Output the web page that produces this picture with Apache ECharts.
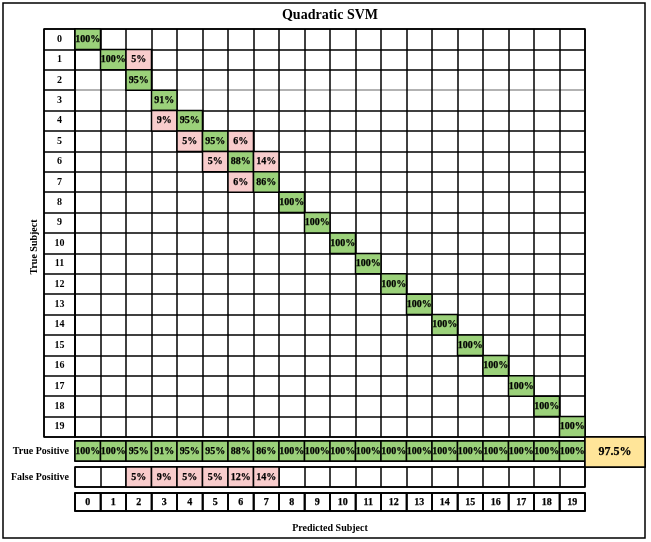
<!DOCTYPE html>
<html><head><meta charset="utf-8">
<script src="https://cdn.jsdelivr.net/npm/echarts@6/dist/echarts.min.js"></script>
<style>html,body{margin:0;padding:0;background:#fff}#c{width:651px;height:542px}</style>
</head><body><div id="c"></div>
<script>
// ---- data ----
const categories = ['0','1','2','3','4','5','6','7','8','9','10','11','12','13','14','15','16','17','18','19'];
// [predicted column, true row, percent]
const matrixCells = [
  [0,0,100],
  [1,1,100],[2,1,5],
  [2,2,95],
  [3,3,91],
  [3,4,9],[4,4,95],
  [4,5,5],[5,5,95],[6,5,6],
  [5,6,5],[6,6,88],[7,6,14],
  [6,7,6],[7,7,86],
  [8,8,100],[9,9,100],[10,10,100],[11,11,100],[12,12,100],[13,13,100],
  [14,14,100],[15,15,100],[16,16,100],[17,17,100],[18,18,100],[19,19,100]
];
const truePositive = [100,100,95,91,95,95,88,86,100,100,100,100,100,100,100,100,100,100,100,100];
const falsePositive = [null,null,5,9,5,5,12,14,null,null,null,null,null,null,null,null,null,null,null,null];
const accuracy = [97.5];
const rowNames = ['True Positive','False Positive'];

// ---- styles ----
const LW = 1.5;
const FONT = '"Liberation Serif", "Times New Roman", serif';
const GREEN = '#9bd17a', PINK = '#f8cccc', YELLOW = '#ffe599';

function cellRenderer(colorFn, fontSize, textFn) {
  return function (params, api) {
    const x = api.value(0), y = api.value(1), v = api.value(2);
    const c = api.coord([x, y]);
    const s = api.size([1, 1]);
    return {
      type: 'group',
      children: [
        { type: 'rect',
          shape: { x: c[0] - s[0] / 2, y: c[1] - s[1] / 2, width: s[0], height: s[1] },
          style: { fill: colorFn(x, y, v), stroke: '#000', lineWidth: LW } },
        { type: 'text',
          style: { text: textFn(x, y, v), x: c[0], y: c[1], align: 'center', verticalAlign: 'middle',
                   font: 'bold ' + fontSize + 'px ' + FONT, fill: '#000',
                   stroke: '#000', lineWidth: 0.25 } }
      ]
    };
  };
}

const hiddenAxis = (extra) => Object.assign({
  type: 'category',
  axisLine: { show: false }, axisTick: { show: false }, axisLabel: { show: false },
  splitLine: { show: true, lineStyle: { color: '#000', width: LW } }
}, extra);

const gridBase = { show: true, borderColor: '#000', borderWidth: LW, backgroundColor: 'transparent' };

const matrixSplitColors = categories.map(() => '#000').concat(['#000']);
matrixSplitColors[3] = '#999';

const labelText = { fontFamily: FONT, fontWeight: 'bold', fontSize: 10, color: '#000' };

const option = {
  animation: false,
  backgroundColor: '#fff',
  title: {
    text: 'Quadratic SVM', left: 330, top: 8, padding: 0, textAlign: 'center',
    textStyle: { fontFamily: FONT, fontWeight: 'bold', fontSize: 14, color: '#000' }
  },
  graphic: [{
    type: 'rect', shape: { x: 3, y: 3, width: 642, height: 535 },
    style: { fill: 'none', stroke: '#000', lineWidth: LW }, z: -10
  }],
  grid: [
    Object.assign({ left: 44, top: 29, width: 31, height: 408 }, gridBase),   // row labels
    Object.assign({ left: 75, top: 29, width: 510, height: 408 }, gridBase),  // matrix
    Object.assign({ left: 75, top: 441, width: 510, height: 20 }, gridBase),  // TP
    Object.assign({ left: 585, top: 437, width: 60, height: 30 }, gridBase),  // accuracy
    Object.assign({ left: 75, top: 467, width: 510, height: 20 }, gridBase),  // FP
    Object.assign({ left: 75, top: 493, width: 510, height: 18 }, gridBase)   // index
  ],
  xAxis: [
    hiddenAxis({ gridIndex: 0, data: [''] }),
    hiddenAxis({ gridIndex: 1, data: categories }),
    hiddenAxis({ gridIndex: 2, data: categories }),
    hiddenAxis({ gridIndex: 3, data: [''] }),
    hiddenAxis({ gridIndex: 4, data: categories }),
    hiddenAxis({ gridIndex: 5, data: categories, name: 'Predicted Subject', nameLocation: 'middle', nameGap: 12,
      nameTextStyle: labelText })
  ],
  yAxis: [
    hiddenAxis({ gridIndex: 0, data: categories, inverse: true,
      axisLabel: Object.assign({ show: true, inside: true, align: 'center', margin: 15.5 }, labelText),
      name: 'True Subject', nameLocation: 'middle', nameGap: 5, nameRotate: 90,
      nameTextStyle: Object.assign({ padding: [0, 28, 0, 0] }, labelText) }),
    hiddenAxis({ gridIndex: 1, data: categories, inverse: true,
      splitLine: { show: true, lineStyle: { color: matrixSplitColors, width: LW } } }),
    hiddenAxis({ gridIndex: 2, data: [rowNames[0]],
      axisLabel: Object.assign({ show: true, margin: 6 }, labelText) }),
    hiddenAxis({ gridIndex: 3, data: [''] }),
    hiddenAxis({ gridIndex: 4, data: [rowNames[1]],
      axisLabel: Object.assign({ show: true, margin: 6 }, labelText) }),
    hiddenAxis({ gridIndex: 5, data: [''] })
  ],
  series: [
    { type: 'custom', xAxisIndex: 1, yAxisIndex: 1, data: matrixCells,
      renderItem: cellRenderer((x, y) => x === y ? GREEN : PINK, 10, (x, y, v) => v + '%') },
    { type: 'custom', xAxisIndex: 2, yAxisIndex: 2,
      data: truePositive.map((v, i) => [i, 0, v]),
      renderItem: cellRenderer(() => GREEN, 10, (x, y, v) => v + '%') },
    { type: 'custom', xAxisIndex: 3, yAxisIndex: 3,
      data: accuracy.map((v) => [0, 0, v]),
      renderItem: cellRenderer(() => YELLOW, 12, (x, y, v) => v.toFixed(1) + '%') },
    { type: 'custom', xAxisIndex: 4, yAxisIndex: 4,
      data: falsePositive.map((v, i) => [i, 0, v]).filter(d => d[2] !== null),
      renderItem: cellRenderer(() => PINK, 10, (x, y, v) => v + '%') },
    { type: 'custom', xAxisIndex: 5, yAxisIndex: 5,
      data: categories.map((c, i) => [i, 0, i]),
      renderItem: cellRenderer(() => 'transparent', 10, (x) => categories[x]) }
  ]
};

const chart = echarts.init(document.getElementById('c'), null, { renderer: 'canvas' });
chart.setOption(option);
</script>
</body></html>
